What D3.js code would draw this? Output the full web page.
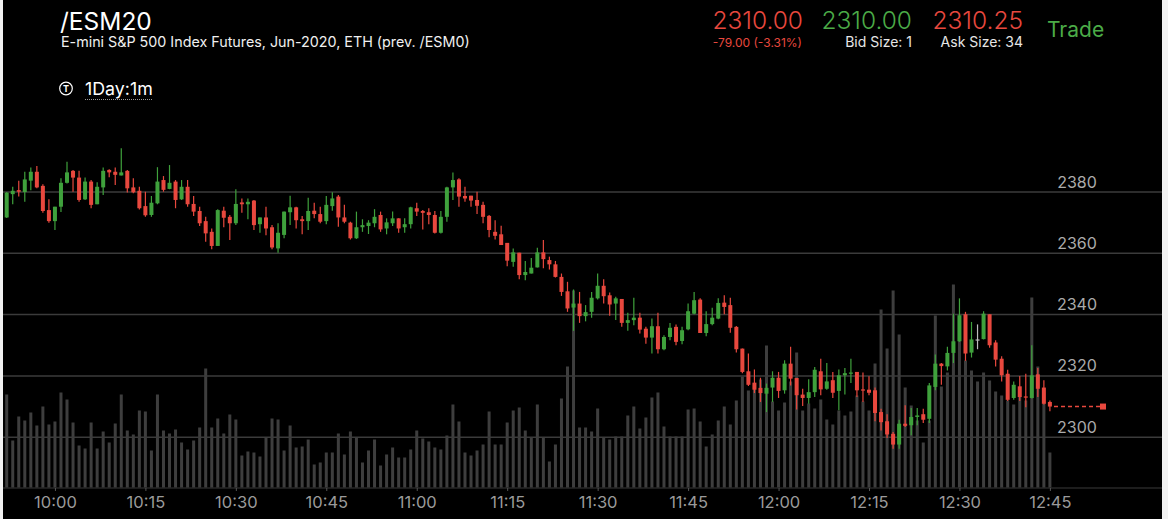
<!DOCTYPE html>
<html><head><meta charset="utf-8">
<script src="https://cdn.jsdelivr.net/npm/d3@7"></script>
<style>
body{margin:0;background:#f2f2f2;overflow:hidden}
svg{display:block}
text{font-family:Inter,"Noto Sans",sans-serif}
</style>
</head><body>
<svg id="c" width="1168" height="519"></svg>
<script>
// ---------- header texts ----------
const symbol = "/ESM20";
const description = "E-mini S&P 500 Index Futures, Jun-2020, ETH (prev. /ESM0)";
const periodLabel = "1Day:1m";
const lastLabel = "2310.00", changeLabel = "-79.00 (-3.31%)";
const bidLabel = "2310.00", bidSizeLabel = "Bid Size: 1";
const askLabel = "2310.25", askSizeLabel = "Ask Size: 34";
const tradeLabel = "Trade";

// ---------- data (1-minute candles, 09:52 - 12:45) ----------
const opens = [
2371.7,2379.3,2380.6,2380,2383.7,2386.6,2382,2374.1,2370.5,2375.2,
2383,2386.9,2384.7,2377.6,2383.4,2376,2381.5,2387.2,2386.6,2385.4,
2386.9,2381.5,2380.4,2375.4,2372.5,2376.3,2383.9,2381,2383.4,2377.6,
2381.7,2376.1,2373.8,2370.5,2367,2362.4,2373.9,2371.9,2369.8,2376.6,
2376,2377.2,2369.5,2371.7,2368.5,2361.6,2366,2373.4,2375,2371.1,
2370.5,2373.9,2372.8,2370.5,2375.4,2378.5,2371.7,2370,2364.9,2368.5,
2368.9,2369.8,2372.5,2368.1,2369.8,2371.4,2368.5,2369.5,2374.7,2373.8,
2373.4,2372.5,2366.7,2371.9,2381.5,2384.1,2378.7,2378.8,2377.4,2375.8,
2372.2,2367,2366.2,2363.4,2357.2,2360.2,2352.9,2353.4,2355.4,2360.3,
2357.8,2356.4,2352.3,2347.6,2342.3,2343.6,2339.5,2340.9,2345.3,2349.4,
2346.3,2343.6,2345.1,2337.3,2338.2,2339,2335.4,2332.5,2336.2,2328.7,
2332.7,2336,2331.4,2335.2,2340.3,2344.9,2334,2336.9,2338.7,2343.9,
2343.1,2336,2328.9,2321.5,2317.8,2316.1,2314.2,2316.2,2319.4,2315.3,
2324,2319.3,2313.9,2312.8,2314.7,2321.5,2315.8,2318.6,2315.1,2320.2,
2320.7,2321.3,2315.6,2315.5,2315.3,2308.2,2305.2,2301.1,2297.6,2304.4,
2303.9,2306.6,2307.5,2306,2316.4,2324,2323.1,2327.5,2331.3,2340.1,
2327.6,2331.9,2332,2340.1,2330.9,2325.6,2320.7,2312.8,2316.6,2313.3,
2312.8,2320.5,2316.2,2311.5];
const highs = [
2380,2381.7,2383.7,2386.6,2388,2388.5,2382.5,2377.6,2375.2,2384.5,
2389.9,2387.2,2386.9,2384.7,2383.9,2383.2,2388,2387.4,2388,2394.3,
2387.2,2384.5,2381.7,2380.1,2378.7,2388.1,2385.2,2388.8,2383.9,2383.9,
2383.9,2378.7,2375.2,2371.9,2368.1,2374.4,2375.2,2372.5,2380.9,2377.9,
2377.9,2377.4,2371.7,2375.2,2369.2,2369.8,2373.6,2378.8,2375.2,2372.2,
2378.1,2376.5,2375.2,2378.7,2379.9,2379,2375.8,2370.3,2373.6,2371.1,
2370.8,2374.4,2373.6,2371.4,2373.6,2371.4,2371.4,2375.2,2376.5,2374.1,
2374.7,2373.8,2373.8,2381.7,2386.4,2384.5,2381.7,2378.8,2380.1,2376.8,
2372.5,2370.8,2369,2363.4,2361.6,2360.2,2357.5,2358.5,2361.8,2364.3,
2358.9,2357.5,2353.4,2350.7,2348.2,2347.4,2343.1,2347.4,2353.4,2351.5,
2347.2,2345.8,2345.1,2340.6,2345.5,2340.6,2336,2338.7,2340.6,2333.3,
2337.3,2336.8,2336,2343.6,2347.4,2345.3,2341.1,2342.2,2345.3,2346.3,
2345.5,2336.3,2328.9,2327.3,2322.1,2319.4,2317.5,2321.5,2321.3,2325.1,
2329.5,2319.3,2315.8,2318.9,2322.9,2325.6,2324.2,2321.3,2322.1,2322.6,
2325.6,2321.3,2321.1,2319.9,2316.2,2309.3,2307.5,2301.7,2305.7,2310.4,
2309.5,2309.5,2309.3,2317.7,2327,2324.2,2329.5,2340.3,2345.3,2340.9,
2337.6,2336.8,2341.1,2340.1,2331.6,2326.4,2322,2318.2,2320,2320.7,
2330,2322.6,2318.6,2312];
const lows = [
2371.5,2376,2378.5,2376.8,2380.6,2381.2,2373.2,2370,2367.6,2373.5,
2382.8,2380.1,2376.8,2377.4,2374.7,2376,2379,2384.8,2382.3,2385.4,
2379.8,2379.6,2374.3,2371.9,2371.9,2376,2380.1,2380.9,2374.7,2377.4,
2375.2,2372.2,2368.9,2363.8,2361.3,2362.4,2368.5,2364.3,2369.2,2373.2,
2371.1,2367.6,2366.7,2365.9,2361.3,2360.2,2364.9,2369.2,2368.1,2366.2,
2367.6,2371.4,2369.8,2369.5,2373.9,2368.7,2369.8,2364.5,2364.7,2367,
2366.3,2368.5,2367,2366.2,2368.9,2366.7,2366.7,2368.1,2372.2,2367.8,
2369.5,2366.5,2366.5,2370.3,2377.4,2375.2,2376.8,2375.2,2372.8,2369.8,
2365.2,2364.5,2362.7,2355.8,2355.6,2351.5,2351.2,2353.4,2355.4,2355.1,
2354.7,2352.1,2346.1,2340.9,2334.7,2337.3,2337.8,2339,2344.9,2343.6,
2339.6,2338.2,2336,2334.7,2336.5,2333.8,2330.5,2327.3,2327.3,2328.4,
2331.6,2330,2330.3,2334.9,2340.1,2334,2332.9,2336.5,2338.5,2340.1,
2334.1,2327.6,2320.9,2316.7,2314.4,2311.5,2308.2,2311.5,2312.8,2314.2,
2316.9,2309,2310.2,2310.9,2313.1,2313.7,2315.5,2312.8,2308.8,2313.9,
2317.7,2313.1,2311.5,2313.7,2305.2,2302.2,2299.7,2296.2,2296.2,2303.3,
2300.6,2303.9,2304.6,2304.6,2315.3,2317.1,2321.8,2324.2,2331.1,2324.9,
2326,2328.7,2331.9,2329.2,2323.1,2318.2,2311.8,2312.2,2311.8,2309.8,
2312.6,2313.1,2310.7,2308.5];
const closes = [
2379.8,2380.4,2380.1,2384.1,2386.6,2381.5,2373.8,2370.5,2375.2,2383,
2386.4,2384.7,2377.4,2383.4,2375.8,2381.7,2386.9,2386.4,2385.6,2386.4,
2381.2,2379.9,2374.7,2372.4,2376.5,2383.4,2380.7,2383,2377.4,2381.7,
2376,2373.6,2369.8,2366.5,2362.4,2374.1,2371.6,2369.8,2376.1,2376,
2376.8,2369.2,2371.7,2368.1,2361.9,2366.7,2373.6,2375,2370.8,2370.5,
2373.8,2372.8,2370.3,2375.8,2377.9,2371.7,2370.3,2364.9,2368.5,2369.2,
2370,2371.9,2367.8,2370.1,2371.4,2368.1,2369.5,2375,2373.6,2373.2,
2372.5,2366.7,2371.9,2381.5,2383.9,2378.5,2377.9,2377.2,2375.5,2371.9,
2367.6,2365.7,2362.7,2357.6,2360.3,2352.9,2353.9,2355.3,2360.3,2358.1,
2356.4,2352.3,2347.4,2342,2343.6,2339.5,2340.8,2345.5,2349.4,2346,
2343.3,2345.3,2337.3,2338.2,2339,2335.1,2332.5,2336.2,2328.7,2332.7,
2335.7,2331.1,2334.9,2341.1,2344.7,2334,2336.9,2339,2343.8,2342.5,
2335.7,2328.7,2321.3,2317.1,2315.5,2314.4,2316.1,2319.4,2315.1,2324,
2319.1,2313.7,2312.8,2314.7,2322,2315.6,2318.2,2314.5,2320.2,2320.9,
2321.1,2315.3,2315.3,2314.5,2307.9,2304.9,2300.9,2297.6,2304.4,2303.7,
2306.6,2307.1,2305.7,2316.9,2324,2323.2,2327.5,2331.3,2339.8,2327.3,
2331.9,2331.9,2340.3,2330,2325.3,2320.2,2312.2,2317.1,2313.1,2312.9,
2320.2,2315.8,2310.9,2310];
const volumes = [
930,470,710,670,750,620,810,630,660,950,
880,650,420,390,650,390,560,450,640,930,
570,530,770,760,370,930,570,540,580,
450,380,470,600,1190,600,690,540,730,680,
320,360,350,310,500,690,680,370,620,400,
410,480,230,250,350,350,540,330,560,
500,250,370,480,220,330,400,300,300,380,
570,490,460,400,380,520,830,660,350,320,
370,430,760,430,430,650,770,800,570,
500,830,500,260,430,890,1210,1970,600,600,
560,790,500,480,510,510,720,810,590,700,
900,950,610,510,510,510,780,790,660,
410,530,670,810,630,870,1110,970,1040,1080,
1420,860,770,850,1060,1350,770,840,790,880,
680,630,770,720,760,920,860,770,1240,
1780,1390,1970,1530,1000,820,670,450,670,1720,
1010,1150,2030,1470,1270,1170,1060,1150,1070,960,
920,870,830,910,870,1900,1210,840,350];
const priceTicks = [2300, 2320, 2340, 2360, 2380];
const lastPrice = 2310.00;
const firstMinute = new Date(2020, 5, 8, 9, 52);

// ---------- build ----------
const RED = "#e8483e", GREEN = "#3fa13c", TXTGREEN = "#4bab47", GRAY = "#9a9a9a";
const n = Math.min(opens.length, highs.length, lows.length, closes.length, volumes.length);
const candles = d3.range(n).map(i => ({
  t: d3.timeMinute.offset(firstMinute, i),
  o: opens[i], h: highs[i], l: lows[i], c: closes[i], v: volumes[i]
}));

const svg = d3.select("#c");
svg.append("rect").attr("x", 3).attr("y", 0).attr("width", 1159).attr("height", 519).attr("fill", "#000");

const x = d3.scaleTime().domain([candles[0].t, candles[n - 1].t]).range([6.7, 1049.9]);
const y = d3.scaleLinear().domain([2300, 2380]).range([437.2, 192]);
const yv = d3.scaleLinear().domain([0, 2500]).range([487.5, 237.5]);

// volume
svg.append("g").selectAll("rect").data(candles).join("rect")
  .attr("x", d => x(d.t) - 1.5).attr("width", 3)
  .attr("y", d => yv(d.v)).attr("height", d => yv(0) - yv(d.v))
  .attr("fill", "#3e3e3e");

// grid
svg.append("g").selectAll("line").data(priceTicks).join("line")
  .attr("x1", 3).attr("x2", 1162).attr("y1", d => y(d)).attr("y2", d => y(d))
  .attr("stroke", "#3b3b3b").attr("stroke-width", 1.5);
svg.append("g").selectAll("text").data(priceTicks).join("text")
  .attr("x", 1077).attr("y", d => y(d) - 4.5).attr("text-anchor", "middle")
  .attr("fill", "#ababab").attr("font-size", 16).text(d => d3.format("d")(d));

// x axis
svg.append("line").attr("x1", 3).attr("x2", 1162).attr("y1", 488).attr("y2", 488)
  .attr("stroke", "#3b3b3b").attr("stroke-width", 1.2);
const xAxis = d3.axisBottom(x).ticks(d3.timeMinute.every(15)).tickFormat(d3.timeFormat("%H:%M")).tickSize(3);
const gx = svg.append("g").attr("transform", "translate(0,488)").call(xAxis);
gx.select(".domain").remove();
gx.selectAll(".tick line").attr("stroke", "#555");
gx.selectAll(".tick text").attr("y", 20).attr("dy", 0).attr("fill", GRAY)
  .attr("font-size", 16.5).attr("font-family", 'Inter,"Noto Sans",sans-serif');

// candles
const col = d => d.c > d.o ? GREEN : (d.c < d.o ? RED : "#bdbdbd");
const cg = svg.append("g");
cg.selectAll("line").data(candles).join("line")
  .attr("x1", d => x(d.t)).attr("x2", d => x(d.t))
  .attr("y1", d => y(d.h)).attr("y2", d => y(d.l))
  .attr("stroke", col).attr("stroke-width", 1.2);
cg.selectAll("rect").data(candles).join("rect")
  .attr("x", d => x(d.t) - 2).attr("width", 4)
  .attr("y", d => y(Math.max(d.o, d.c)))
  .attr("height", d => Math.max(1.2, Math.abs(y(d.o) - y(d.c))))
  .attr("fill", col);

// last price marker
const lp = y(lastPrice);
svg.append("line").attr("x1", 1054).attr("x2", 1100).attr("y1", lp).attr("y2", lp)
  .attr("stroke", RED).attr("stroke-width", 1.6).attr("stroke-dasharray", "4,3");
svg.append("rect").attr("x", 1100).attr("y", lp - 3).attr("width", 6).attr("height", 6).attr("fill", RED);

// header
const hdr = svg.append("g");
hdr.append("text").attr("x", 60).attr("y", 30).attr("fill", "#fff").attr("font-size", 24.5).text(symbol);
hdr.append("text").attr("x", 61).attr("y", 47).attr("fill", "#f0f0f0").attr("font-size", 14.3).text(description);
hdr.append("circle").attr("cx", 66).attr("cy", 88.5).attr("r", 6.3).attr("fill", "none").attr("stroke", "#fff").attr("stroke-width", 1.2);
hdr.append("text").attr("x", 66).attr("y", 91.9).attr("text-anchor", "middle").attr("fill", "#fff")
  .attr("font-size", 9).attr("font-weight", 700).text("T");
const per = hdr.append("text").attr("x", 85).attr("y", 95).attr("fill", "#fff").attr("font-size", 17.8).text(periodLabel);
const pw = per.node().getComputedTextLength();
hdr.append("line").attr("x1", 85).attr("x2", 85 + pw).attr("y1", 99.5).attr("y2", 99.5)
  .attr("stroke", "#9a9a9a").attr("stroke-width", 1).attr("stroke-dasharray", "1,1");

const big = [[803, lastLabel, RED], [912, bidLabel, TXTGREEN], [1023, askLabel, RED]];
big.forEach(([xx, t, c]) => hdr.append("text").attr("x", xx).attr("y", 28.5)
  .attr("text-anchor", "end").attr("fill", c).attr("font-size", 24.5).attr("font-weight", 300).text(t));
hdr.append("text").attr("x", 802).attr("y", 47).attr("text-anchor", "end").attr("fill", RED).attr("font-size", 12).text(changeLabel);
hdr.append("text").attr("x", 912).attr("y", 47).attr("text-anchor", "end").attr("fill", "#e6e6e6").attr("font-size", 14).text(bidSizeLabel);
hdr.append("text").attr("x", 1023).attr("y", 47).attr("text-anchor", "end").attr("fill", "#e6e6e6").attr("font-size", 14).text(askSizeLabel);
hdr.append("text").attr("x", 1047).attr("y", 37).attr("fill", TXTGREEN).attr("font-size", 21).text(tradeLabel);
</script>
</body></html>
